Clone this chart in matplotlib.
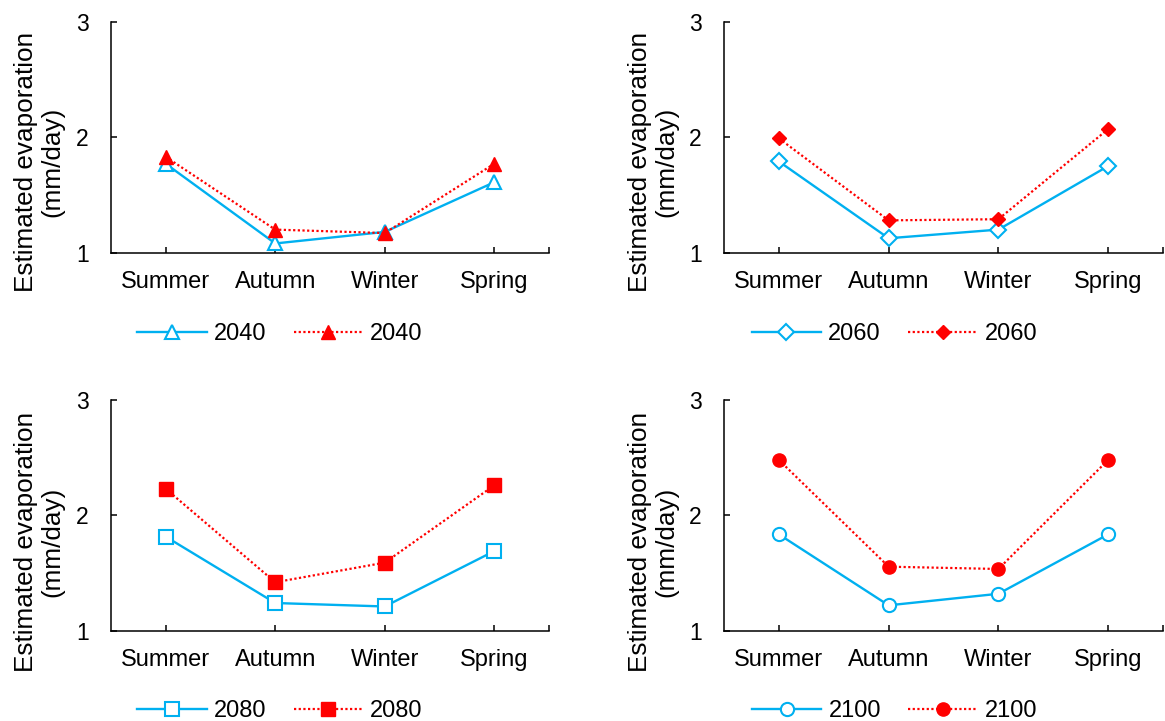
import matplotlib
matplotlib.use("Agg")
import matplotlib.pyplot as plt

plt.rcParams['font.family'] = ['Liberation Sans', 'DejaVu Sans']

seasons = ["Summer", "Autumn", "Winter", "Spring"]
years = ["2040", "2060", "2080", "2100"]

# blue = open markers / solid line, red = filled markers / dotted line
blue_2040 = [1.77, 1.08, 1.18, 1.61]
red_2040 = [1.83, 1.20, 1.17, 1.77]
blue_2060 = [1.79, 1.125, 1.20, 1.75]
red_2060 = [1.99, 1.28, 1.29, 2.07]
blue_2080 = [1.815, 1.24, 1.21, 1.69]
red_2080 = [2.23, 1.42, 1.59, 2.26]
blue_2100 = [1.835, 1.22, 1.32, 1.835]
red_2100 = [2.48, 1.555, 1.535, 2.48]

yticks = [1, 2, 3]

BLUE = "#00B0F0"
RED = "#FF0000"
W, H = 1165, 721

fig = plt.figure(figsize=(W / 100, H / 100), dpi=100)


def px_axes(left, right, top, bottom):
    return fig.add_axes([left / W, 1 - bottom / H, (right - left) / W, (bottom - top) / H])


panels = [
    (px_axes(111, 549, 21.7, 252.7), blue_2040, red_2040, "^", years[0], (280, 334), 39, 162),
    (px_axes(724, 1163, 21.7, 252.7), blue_2060, red_2060, "D", years[1], (894.5, 334), 653, 162),
    (px_axes(111, 549, 400, 630.7), blue_2080, red_2080, "s", years[2], (280, 711), 39, 542),
    (px_axes(724, 1163, 400, 630.7), blue_2100, red_2100, "o", years[3], (894.5, 711), 653, 542),
]

msize = {"^": 9.5, "D": 8.5, "s": 9.5, "o": 9.5}

for ax, blue, red, mk, yr, leg_xy, lab_x, lab_y in panels:
    x = range(len(seasons))
    ms = msize[mk]
    ax.plot(x, blue, color=BLUE, lw=1.7, marker=mk, ms=ms,
            mfc="white", mec=BLUE, mew=1.5, label=yr, zorder=3)
    ax.plot(x, red, color=RED, lw=1.6, ls=(0, (1, 1.1)), marker=mk,
            ms=ms * (0.85 if mk == "D" else 1.0), mfc=RED, mec=RED, label=yr, zorder=4)

    ax.set_xlim(-0.5, 3.5)
    ax.set_ylim(1, 3)
    ax.set_yticks(yticks)
    ax.set_xticks(list(x))
    ax.set_xticklabels(seasons)
    ax.set_xticks([3.5], minor=True)
    ax.spines[["top", "right"]].set_visible(False)
    for s in ("left", "bottom"):
        ax.spines[s].set_linewidth(1.1)
        ax.spines[s].set_color("black")
    ax.tick_params(axis="x", which="both", direction="in", length=4.5, width=1.1,
                   labelsize=17, pad=13)
    ax.tick_params(axis="y", direction="in", length=4.5, width=1.1,
                   labelsize=16.5, pad=16)

    ax.legend(loc="center", bbox_to_anchor=(leg_xy[0] / W, 1 - leg_xy[1] / H),
              bbox_transform=fig.transFigure, ncol=2, frameon=False, fontsize=17,
              handlelength=2.95, handletextpad=0.3, columnspacing=1.15,
              borderpad=0, borderaxespad=0)

    fig.text(lab_x / W, 1 - lab_y / H, "Estimated evaporation\n(mm/day)",
             rotation=90, ha="center", va="center", multialignment="center",
             fontsize=18.8, linespacing=1.15)

fig.savefig("out.png", dpi=100)
